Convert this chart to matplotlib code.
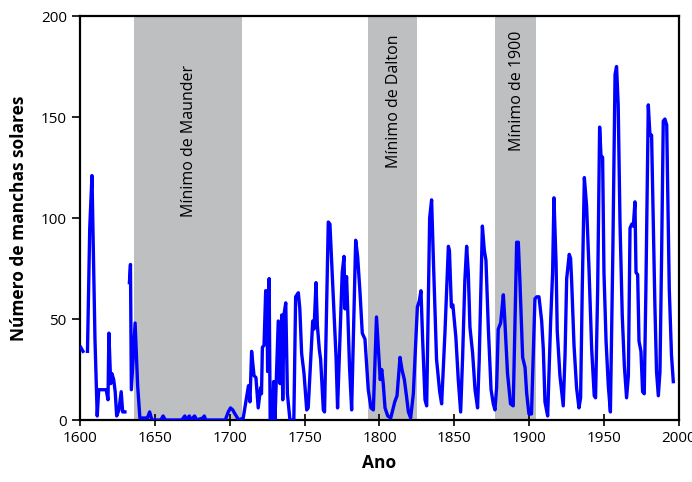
import numpy as np
import matplotlib
matplotlib.use("Agg")
import matplotlib.pyplot as plt

plt.rcParams['font.family'] = ['Open Sans', 'DejaVu Sans']

# annual sunspot counts (gaps where the record is missing)
anos = [
    1600.5, 1602, np.nan, 1605, 1606.5, 1608, 1610, 1611.5, 1612.5, 1617.5, 1618.7,
    1619.3, 1620.5, 1621.3, 1622.5, 1623.5, 1624.5, 1626, 1627.5, 1628.5, 1630, np.nan,
    1633, 1633.7, 1634.3, 1636.8, 1638.5, 1640, 1645, 1646.5, 1648, 1654, 1655.5, 1657,
    1668, 1670, 1671, 1673, 1674, 1676.5, 1678, 1682, 1683, 1684, 1697, 1699, 1700.5,
    1702, 1703.5, 1706, 1709, 1711, 1712.5, 1713.5, 1714.6, 1716.2, 1717.5, 1719,
    1720.6, 1721.2, 1721.8, 1722.9, 1724, 1724.7, 1725.3, 1726.3, 1727, 1728.4, 1729.3,
    1730.2, 1732.4, 1733.6, 1734.7, 1735.4, 1736.2, 1737.4, 1738.5, 1740.2, 1742.8, 1744,
    1745.8, 1746.8, 1748, 1749.6, 1751.4, 1752.4, 1755.4, 1756.3, 1757.6, 1758.5, 1759.8,
    1760.7, 1762.5, 1763.3, 1765.8, 1766.9, 1768, 1771, 1772, 1775.1, 1776.3, 1777, 1778,
    1778.8, 1780, 1781.4, 1784.1, 1785.4, 1787, 1788.5, 1790.3, 1792.5, 1794.3, 1795.9,
    1798, 1799.7, 1800.5, 1801.5, 1802.5, 1803.7, 1805.5, 1807.5, 1810.2, 1811.7, 1813.7,
    1815, 1816.6, 1818, 1819.3, 1820.8, 1822.6, 1825.3, 1826.6, 1827.7, 1828.8, 1830.4,
    1831.5, 1833.5, 1834.8, 1836, 1838.1, 1840.2, 1841.5, 1843.7, 1846, 1846.7, 1848,
    1849, 1851, 1852.6, 1854.2, 1855.5, 1857, 1858.2, 1859.3, 1860.4, 1862.2, 1863.8,
    1865.5, 1866.6, 1867.8, 1868.7, 1870, 1871.1, 1872.7, 1874.5, 1876, 1877.1, 1878.2,
    1879.3, 1880.9, 1882.7, 1883.5, 1885.5, 1887.5, 1889.3, 1891.6, 1892.7, 1893.8,
    1895.6, 1897.2, 1898.3, 1899.8, 1901.5, 1903.8, 1905, 1906.5, 1908.3, 1909.4, 1910.5,
    1912.3, 1914.3, 1915.6, 1916.5, 1917.9, 1918.7, 1920.5, 1922.7, 1923.9, 1925, 1926.7,
    1927.6, 1928.3, 1929.9, 1931.6, 1933.2, 1934.3, 1935.4, 1936.8, 1938.3, 1939.9,
    1941.7, 1943.4, 1944.3, 1945.7, 1947, 1947.9, 1949, 1949.9, 1951.3, 1952.8, 1954.2,
    1955.8, 1957.3, 1958.3, 1959.4, 1960.6, 1962.1, 1963.5, 1965, 1966.2, 1967.3, 1968.5,
    1969.5, 1970.6, 1971.3, 1972.4, 1973.3, 1974.6, 1975.7, 1976.8, 1977.9, 1979.5,
    1980.6, 1981.7, 1982.8, 1983.9, 1985, 1986.2, 1987.3, 1988.4, 1989.5, 1990.6, 1991.8,
    1993.5, 1995, 1996.2,
]
manchas = [
    36, 34, np.nan, 34, 95, 121, 40, 2, 15, 15, 10,
    43, 18, 23, 20, 14, 2, 5, 14, 4, 4, np.nan,
    68, 77, 15, 48, 17, 1, 1, 4, 0, 0, 2, 0,
    0, 2, 0, 2, 0, 2, 0, 1, 2, 0, 0, 4, 6,
    5, 3, 0, 1, 10, 17, 9, 34, 22, 21, 6,
    16, 13, 36, 37, 64, 64, 24, 70, 0, 0, 19,
    0, 49, 18, 52, 10, 52, 58, 13, 0, 0, 61,
    63, 55, 33, 23, 5, 6, 49, 45, 68, 47, 35,
    30, 5, 4, 98, 97, 79, 31, 6, 73, 81, 55, 71,
    54, 26, 5, 89, 81, 63, 43, 40, 15, 6, 5,
    51, 30, 20, 25, 18, 6, 2, 1, 9, 12, 31,
    25, 20, 12, 4, 1, 13, 56, 59, 64, 40, 10,
    7, 100, 109, 79, 30, 14, 8, 43, 86, 84, 56,
    57, 41, 20, 4, 31, 69, 86, 73, 46, 33, 15,
    6, 30, 69, 96, 84, 79, 45, 15, 8, 5, 16,
    45, 48, 62, 52, 23, 8, 7, 88, 88, 68,
    31, 26, 13, 3, 3, 60, 61, 61, 49, 35, 9,
    2, 49, 73, 110, 78, 44, 22, 7, 32, 70, 82,
    80, 69, 37, 16, 6, 11, 65, 120, 106, 75,
    35, 12, 11, 65, 145, 131, 130, 73, 39, 17, 4,
    82, 171, 175, 156, 98, 52, 27, 11, 22, 95, 97,
    96, 108, 73, 72, 39, 34, 14, 13, 65, 156,
    141, 141, 98, 57, 24, 12, 24, 82, 148, 149, 146,
    65, 32, 19,
]

# grand minima: (start, end, label, label top)
minimos_inicio = [1636, 1792, 1877]
minimos_fim = [1708, 1825, 1904.5]
minimos_nome = ['Mínimo de Maunder', 'Mínimo de Dalton', 'Mínimo de 1900']
minimos_topo = [176, 191, 193]

fig, ax = plt.subplots(figsize=(6.92, 4.82), dpi=100)
fig.subplots_adjust(left=0.1156, right=0.9812, bottom=0.1286, top=0.9668)

for a, b, nome, topo in zip(minimos_inicio, minimos_fim, minimos_nome, minimos_topo):
    ax.axvspan(a, b, color='#bebfc1', lw=0, zorder=0)
    ax.text((a + b) / 2 + 1, topo, nome, rotation=90, ha='center', va='top',
            fontsize=11.5, color='black')

ax.plot(anos, manchas, color='#0000ff', lw=2.4, solid_joinstyle='round', zorder=3)

ax.set_xlim(1600, 2000)
ax.set_ylim(0, 200)
ax.set_xticks(np.arange(1600, 2001, 50))
ax.set_yticks(np.arange(0, 201, 50))
ax.tick_params(axis='both', labelsize=11, colors='black')
ax.tick_params(axis='x', direction='inout', length=8, width=1.2, pad=4)
ax.tick_params(axis='y', direction='out', length=6, width=1.2)
for s in ax.spines.values():
    s.set_linewidth(1.6)

ax.set_xlabel('Ano', fontsize=12.5, fontweight='bold', labelpad=6)
ax.set_ylabel('Número de manchas solares', fontsize=12.5, fontweight='bold', labelpad=9)

fig.savefig('out.png', dpi=100)
